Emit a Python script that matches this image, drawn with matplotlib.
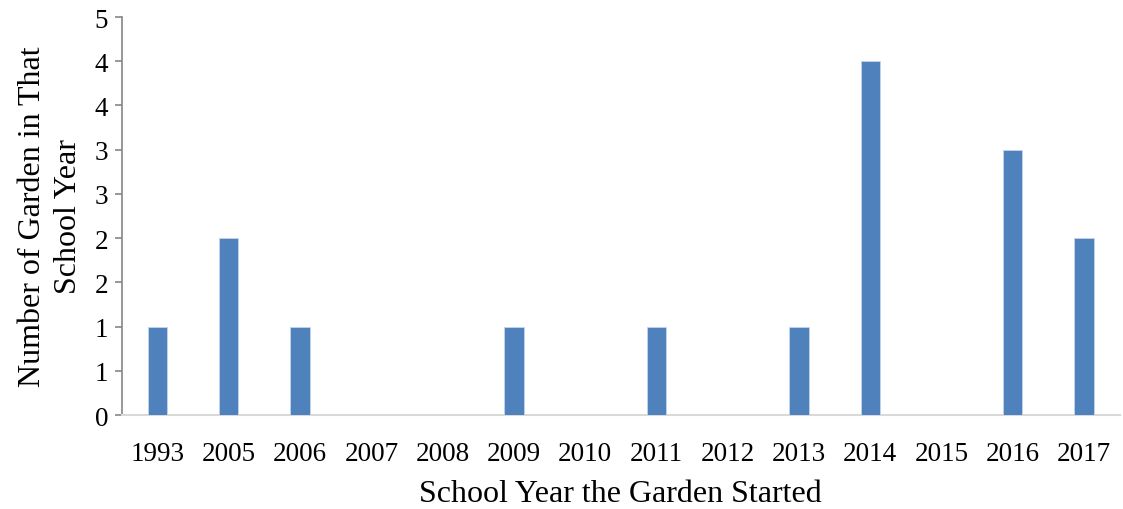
import matplotlib
matplotlib.use("Agg")
import matplotlib.pyplot as plt
import numpy as np

years = ["1993", "2005", "2006", "2007", "2008", "2009", "2010",
         "2011", "2012", "2013", "2014", "2015", "2016", "2017"]
counts = [1, 2, 1, 0, 0, 1, 0, 1, 0, 1, 4, 0, 3, 2]
ytick_values = [0, 0.5, 1, 1.5, 2, 2.5, 3, 3.5, 4, 4.5]
ytick_labels = ["0", "1", "1", "2", "2", "3", "3", "4", "4", "5"]

plt.rcParams['font.family'] = ['Liberation Serif', 'DejaVu Serif']

fig = plt.figure(figsize=(11.23, 5.10), dpi=100)
ax = fig.add_axes([0.1086, 0.1843, 0.8884, 0.7804])

x = np.arange(len(years))
ax.bar(x, counts, width=0.27, color="#4F81BD", edgecolor="#C5D5EA", linewidth=0.6, zorder=3)

ax.set_xlim(-0.5, len(years) - 0.5)
ax.set_ylim(0, 4.5)
ax.set_yticks(ytick_values)
ax.set_yticklabels(ytick_labels)
ax.set_xticks(x)
ax.set_xticklabels(years)

for s in ["top", "right"]:
    ax.spines[s].set_visible(False)
ax.spines["left"].set_color("#868686")
ax.spines["left"].set_linewidth(1.2)
ax.spines["bottom"].set_color("#D9D9D9")
ax.spines["bottom"].set_linewidth(1.5)

ax.tick_params(axis="y", direction="out", length=5, width=1.2, color="#868686",
               labelsize=19.5, pad=5)
ax.tick_params(axis="x", length=0, labelsize=19.5, pad=19)

ax.set_xlabel("School Year the Garden Started", fontsize=23, labelpad=9)
ax.set_ylabel("Number of Garden in That\nSchool Year", fontsize=23, labelpad=8,
              linespacing=1.35)

fig.savefig("out.png", dpi=100, facecolor="white")
